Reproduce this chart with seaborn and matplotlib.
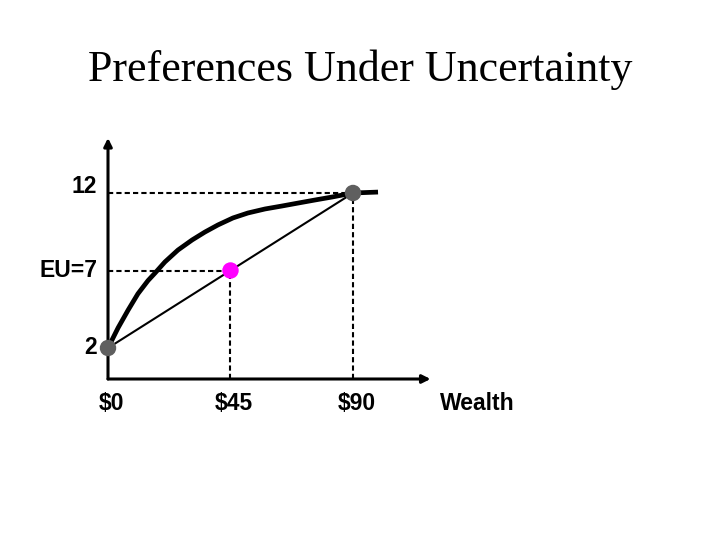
import numpy as np
import pandas as pd
import seaborn as sns
import matplotlib.pyplot as plt

# utility curve
wealth = [0, 3.7, 7.4, 11.0, 14.7, 17.3, 20.9, 25.7, 30.9, 35.6, 40.4,
          45.9, 51.4, 57.7, 63.9, 69.8, 76.1, 82.3, 90, 99.2]
utility = [2, 3.3, 4.45, 5.5, 6.35, 6.84, 7.55, 8.32, 8.97, 9.48, 9.94,
           10.39, 10.71, 10.97, 11.16, 11.35, 11.55, 11.74, 12, 12.06]

# the two outcomes and the expected value
outcome_w = [0, 90]
outcome_u = [2, 12]
ev_w = [45]
ev_u = [7]

ytick_vals = [12, 7, 2]
ytick_labels = ["12", "EU=7", "2"]
xtick_vals = [0, 45, 90]
xtick_labels = ["$0", "$45", "$90"]

sns.set_style("white")
plt.rcParams["font.family"] = ["Liberation Sans", "DejaVu Sans"]
plt.rcParams["text.color"] = "black"

fig = plt.figure(figsize=(7.2, 5.4), dpi=100)
ax = fig.add_axes([0, 0, 1, 1])
# px -> data: wealth = (px-108)/2.722, utility = 2 + (348-py)/15.5
ax.set_xlim(-108 / 2.722, (720 - 108) / 2.722)
ax.set_ylim(2 - 192 / 15.5, 2 + 348 / 15.5)
ax.axis("off")

# axes with arrows
ax.annotate("", xy=(0, 15.55), xytext=(0, 0),
            arrowprops=dict(arrowstyle="-|>", lw=2.2, color="black", mutation_scale=12, shrinkA=0, shrinkB=0))
ax.annotate("", xy=(118.5, 0), xytext=(0, 0),
            arrowprops=dict(arrowstyle="-|>", lw=2.2, color="black", mutation_scale=12, shrinkA=0, shrinkB=0))

# dashed guides
dash = dict(color="black", lw=1.5, dashes=(2.5, 1.5))
for w, u in zip(outcome_w[1:] + ev_w, outcome_u[1:] + ev_u):
    ax.plot([0, w], [u, u], **dash)
    ax.plot([w, w], [0, u], **dash)

# chord
sns.lineplot(x=outcome_w, y=outcome_u, ax=ax, color="black", lw=1.5, sort=False)
# utility curve
curve = pd.DataFrame({"wealth": wealth, "utility": utility})
sns.lineplot(data=curve, x="wealth", y="utility", ax=ax, color="black", lw=3.4,
             sort=False, solid_joinstyle="round", solid_capstyle="butt")

sns.scatterplot(x=outcome_w, y=outcome_u, ax=ax, color="#5f5f5f", s=140, edgecolor="none", zorder=5)
sns.scatterplot(x=ev_w, y=ev_u, ax=ax, color="#ff00ff", s=140, edgecolor="none", zorder=5)

for v, lab in zip(ytick_vals, ytick_labels):
    ax.text(-4.0, v + (0.45 if v == 12 else 0), lab, ha="right", va="center",
            fontsize=16.5, fontweight="bold")
for v, lab in zip(xtick_vals, xtick_labels):
    ax.text(v + 1.3, -1.6, lab, ha="center", va="center", fontsize=16.5, fontweight="bold")
ax.text(135.5, -1.6, "Wealth", ha="center", va="center", fontsize=16.5, fontweight="bold")

fig.text(0.5, 1 - 70 / 540, "Preferences Under Uncertainty", ha="center", va="center",
         fontsize=31.7, family=["Liberation Serif", "DejaVu Serif"])

fig.savefig("out.png", dpi=100)
